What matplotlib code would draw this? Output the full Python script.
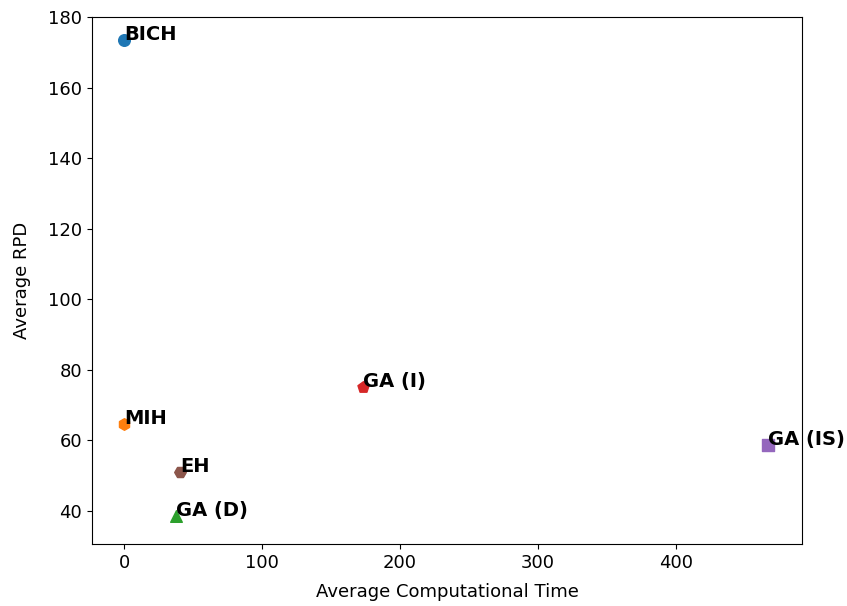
import matplotlib
matplotlib.use("Agg")
import matplotlib.pyplot as plt

labels = ["BICH", "MIH", "GA (D)", "GA (I)", "GA (IS)", "EH"]
times = [0.0, 0.0, 37.7, 173.2, 466.7, 40.6]
rpd = [173.5, 64.7, 38.6, 75.2, 58.7, 51.1]
markers = ["o", "h", "^", "p", "s", "H"]
colors = ["#1f77b4", "#ff7f0e", "#2ca02c", "#d62728", "#9467bd", "#8c564b"]

plt.rcParams['font.size'] = 13
fig = plt.figure(figsize=(8.47, 6.06), dpi=100)
ax = fig.add_axes([0.1086, 0.1023, 0.8384, 0.8697])
for lab, x, y, m, c in zip(labels, times, rpd, markers, colors):
    ax.scatter(x, y, marker=m, color=c, s=70, zorder=3)
    ax.text(x, y, lab, fontweight="bold", fontsize=14)
ax.set_xlim(-23.2, 491.3)
ax.set_ylim(30.6, 180)
ax.set_xticks([0, 100, 200, 300, 400])
ax.set_yticks([40, 60, 80, 100, 120, 140, 160, 180])
ax.set_xlabel("Average Computational Time", labelpad=8)
ax.set_ylabel("Average RPD", labelpad=12)
fig.savefig("out.png", dpi=100)
